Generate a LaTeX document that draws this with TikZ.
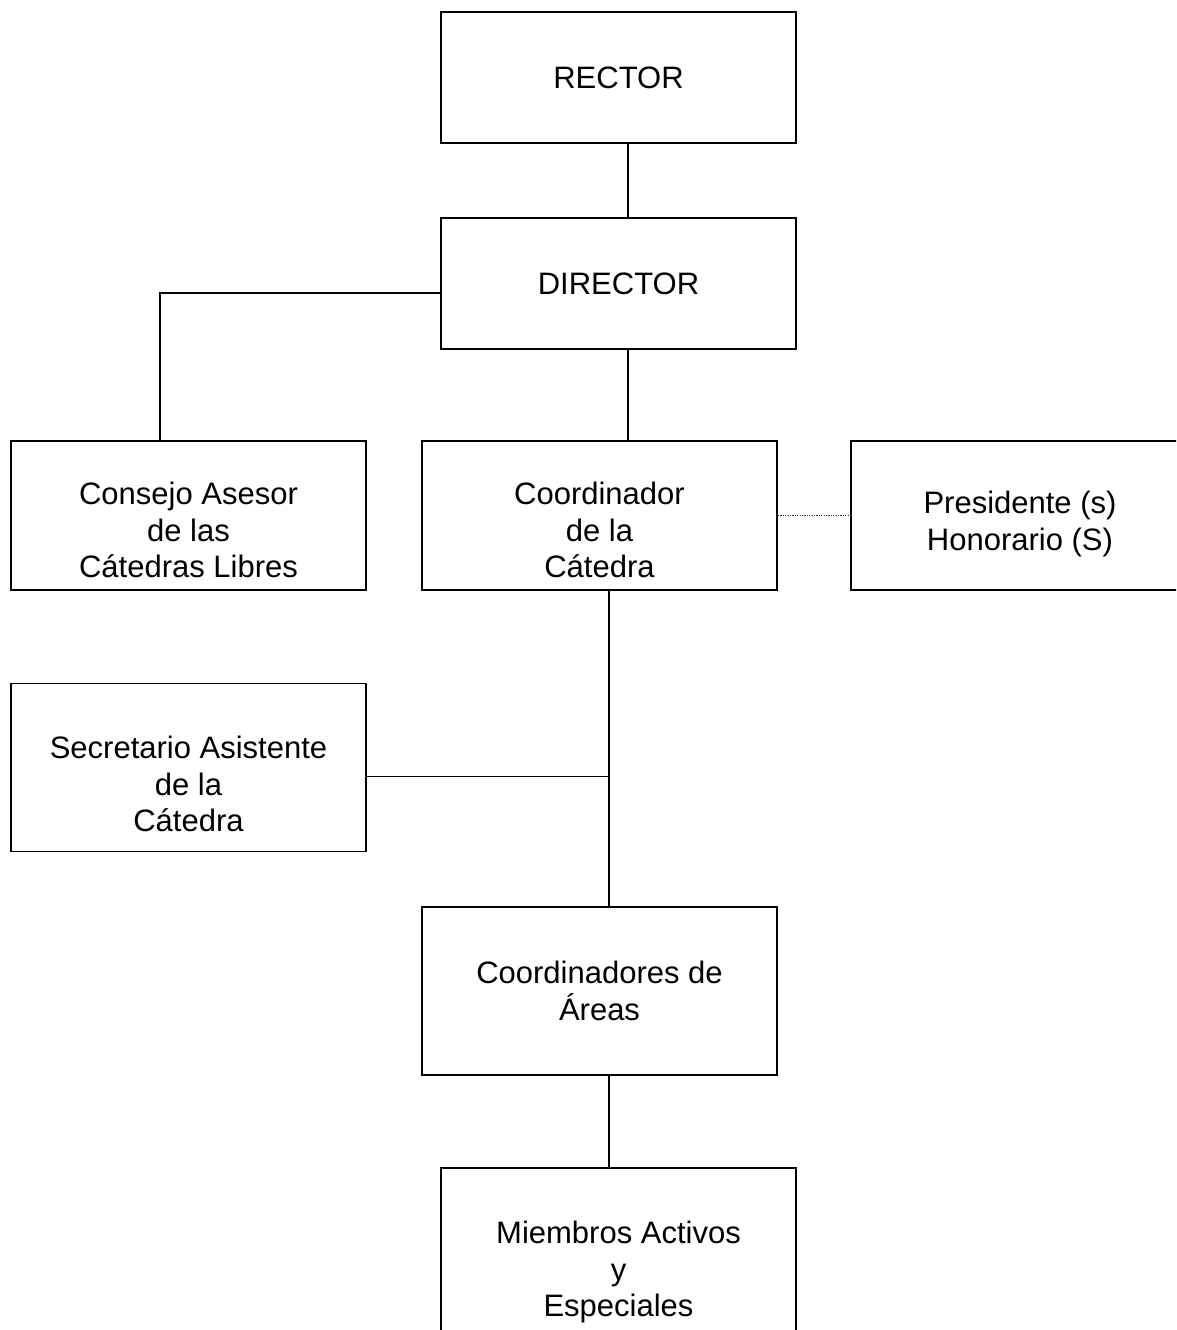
\documentclass[tikz,border=0pt]{standalone}
\usepackage{fontspec}
\setmainfont{Liberation Sans}
\begin{document}
\begin{tikzpicture}[x=1pt,y=-1pt,
  box/.style={draw=black, line width=1.8pt, inner sep=0pt, minimum width=355pt},
  txt/.style={align=center, inner sep=0pt, font=\fontsize{31}{36.5}\selectfont},
  conn/.style={draw=black, line width=1.8pt},
  dotconn/.style={draw=black!80, line width=1.2pt, dash pattern=on 1.2pt off 1.2pt}]
\useasboundingbox (0,0) rectangle (1176,1330);
\clip (0,0) rectangle (1176,1330);
% boxes
\node[box, minimum height=131pt] (rector) at (618.5,77.5) {};
\node[box, minimum height=131pt] (director) at (618.5,283.5) {};
\node[box, minimum height=149pt] (consejo) at (188.5,515.5) {};
\node[box, minimum height=149pt] (coord) at (599.5,515.5) {};
\node[box, minimum height=149pt] (pres) at (1028.5,515.5) {};
\node[box, minimum height=168pt] (secre) at (188.5,767.5) {};
\node[box, minimum height=168pt] (areas) at (599.5,991) {};
\node[box, minimum height=180pt] (miembros) at (618.5,1258) {};
% texts
\node[txt] (rectorT) at (618.5,78) {RECTOR};
\node[txt] (directorT) at (618.5,284) {DIRECTOR};
\node[txt] (consejoT) at (188.5,530) {Consejo Asesor\\de las\\Cátedras Libres};
\node[txt] (coordT) at (599.5,530) {Coordinador\\de la\\Cátedra};
\node[txt] (presT) at (1020,524) {Presidente (s)\\Honorario (S)};
\node[txt] (secreT) at (188.5,784) {Secretario Asistente\\de la\\Cátedra};
\node[txt] (areasT) at (599.5,991) {Coordinadores de\\Áreas};
\node[txt] (miembrosT) at (618.5,1272) {Miembros Activos\\y\\Especiales};
% connectors
\draw[conn] ([xshift=9.5pt]rector.south) -- ([xshift=9.5pt]director.north);
\draw[conn] ([xshift=28.5pt]coord.north) -- ([xshift=9.5pt]director.south);
\draw[conn] ([yshift=-9.5pt]director.west) -| ([xshift=-28.5pt]consejo.north);
\draw[dotconn] (coord.east) -- (pres.west);
\draw[conn] ([xshift=9.5pt]coord.south) -- ([xshift=9.5pt]areas.north);
\coordinate (junc) at ([xshift=9.5pt]coord.south |- 0,776.5);
\draw[conn] (secre.east |- junc) -- (junc);
\draw[conn] ([xshift=9.5pt]areas.south) -- ([xshift=-9.5pt]miembros.north);
\end{tikzpicture}
\end{document}
